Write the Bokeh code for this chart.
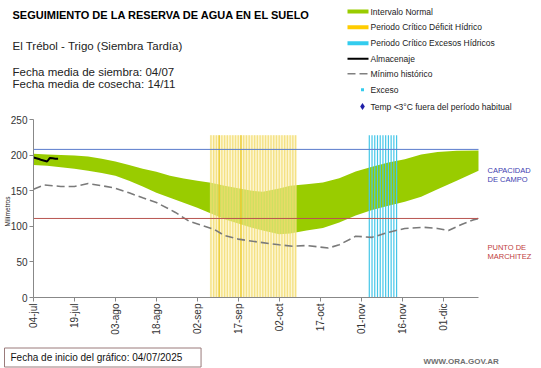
import math
from bokeh.plotting import figure
from bokeh.models import Range1d, Label, FixedTicker, LinearAxis
from bokeh.embed import file_html
from bokeh.resources import INLINE

# ---------------- data ----------------
tick_days = [0, 15, 30, 45, 60, 75, 90, 105, 120, 135, 150]
tick_labels = ["04-jul", "19-jul", "03-ago", "18-ago", "02-sep", "17-sep",
               "02-oct", "17-oct", "01-nov", "16-nov", "01-dic"]
y_ticks = [0, 50, 100, 150, 200, 250]
x_end = 163     # last day shown (14-dic)
y_end = 250

band_days = [0, 5, 10, 15, 20, 25, 30, 35, 40, 45, 50, 55, 60, 65, 70, 75, 80, 84,
             90, 94, 100, 106, 112, 118, 124, 130, 136, 142, 148, 155, 163]
band_upper = [202, 201, 200, 199.5, 198, 195, 191, 186, 181, 176.5, 171, 167, 164,
              161, 157, 153.5, 150, 148.5, 153, 157, 159, 161.5, 167.5, 177, 183.5,
              189.5, 194, 201, 204.5, 206, 206.5]
band_lower = [186, 185, 183, 181, 178, 175, 171, 164, 156, 147, 140, 133, 126, 118,
              110, 104, 98, 94, 89, 90, 94, 97.5, 105.5, 115, 123, 129, 134.5, 141.5,
              152, 164, 178]

min_days = [0, 4, 10, 15, 20, 25, 30, 35, 40, 45, 52, 57, 62, 66, 70, 75, 83, 90, 95,
            100, 108, 112, 118, 124, 130, 136, 143, 148, 152, 157, 161, 163]
min_values = [152, 158, 156, 156, 160, 157, 153.5, 147, 140, 133.5, 119.5, 107, 101,
              96, 87, 82, 77.5, 74, 72, 73, 69.5, 74, 86, 84.5, 91.5, 97, 98.5, 97, 94,
              103, 109, 111]

alm_days = [0, 1, 2, 3, 4, 5, 6, 7, 8, 9]
alm_values = [196.5, 195.5, 194.5, 193, 192, 191, 196, 195.5, 195, 195]

deficit_days = [65, 66, 67, 68, 69, 70, 71, 72, 73, 74, 75, 76, 77, 78, 79, 80, 81,
                82, 83, 84, 85, 86, 87, 88, 89, 90, 91, 92, 93, 94, 95, 96]
deficit_dark_days = [68, 76]
exceso_days = [123, 124, 125, 126, 127, 128, 129, 130, 131, 132, 133]
period_top = 228

capacidad_campo = 208
punto_marchitez = 111

FONT = "Liberation Sans"
W, H = 541, 368
FL, FR = 33, 478          # plot area left/right (page px)
FT, FB = 119, 297         # plot area top/bottom (page px)


def px(page_x):
    return (page_x - FL) * x_end / (FR - FL)


def vy(page_y):
    return (FB - page_y) * y_end / (FB - FT)


p = figure(width=W, height=H, x_range=Range1d(px(0), px(W)),
           y_range=Range1d(vy(H), vy(0)), output_backend="svg",
           toolbar_location=None, min_border=0,
           x_axis_type=None, y_axis_type=None)
p.outline_line_color = None
p.grid.visible = False

# ---------------- marks ----------------
p.varea(x=band_days, y1=band_lower, y2=band_upper, fill_color="#99cc00")

p.quad(left=[min(deficit_days) - 0.4], right=[max(deficit_days) + 0.4],
       bottom=[0], top=[period_top], fill_color="#fbf0b0", fill_alpha=0.55,
       line_color=None)
p.vbar(x=deficit_days, width=0.5, bottom=0, top=period_top,
       fill_color="#f2d96a", fill_alpha=0.75, line_color=None)
p.vbar(x=deficit_dark_days, width=0.35, bottom=0, top=period_top,
       fill_color="#e6c000", fill_alpha=0.9, line_color=None)

p.segment(x0=exceso_days, y0=0, x1=exceso_days, y1=period_top,
          line_color="#45c6e8", line_width=1.2)

p.line(min_days, min_values, line_color="#7a7a7a", line_dash="8 4", line_width=1.6)

p.segment(x0=[0], y0=[capacidad_campo], x1=[x_end], y1=[capacidad_campo],
          line_color="#5a7ccc", line_width=1)
p.segment(x0=[0], y0=[punto_marchitez], x1=[x_end], y1=[punto_marchitez],
          line_color="#b85450", line_width=1)

p.line(alm_days, alm_values, line_color="black", line_width=2)

# ---------------- axes ----------------
xaxis = LinearAxis(fixed_location=0, bounds=(0, x_end),
                   ticker=FixedTicker(ticks=tick_days),
                   major_label_overrides={d: l for d, l in zip(tick_days, tick_labels)},
                   major_label_orientation=math.pi / 2)
yaxis = LinearAxis(fixed_location=0, bounds=(0, y_end),
                   ticker=FixedTicker(ticks=y_ticks))
for ax in (xaxis, yaxis):
    ax.axis_line_color = "#888888"
    ax.major_tick_line_color = "#888888"
    ax.major_tick_out = 4
    ax.major_tick_in = 0
    ax.minor_tick_line_color = None
    ax.major_label_text_font = FONT
    ax.major_label_text_font_size = "10px"
    ax.major_label_text_color = "#333333"
    ax.major_label_standoff = 2
p.add_layout(xaxis, "below")
p.add_layout(yaxis, "left")


# ---------------- texts ----------------
def lab(x, y, text, size, color="#222222", style="normal", **kw):
    p.add_layout(Label(x=px(x), y=vy(y), text=text, text_font=FONT,
                       text_font_size=size, text_color=color,
                       text_font_style=style, text_baseline="middle", **kw))


lab(6.5, 211, "Milímetros", "6.5px", angle=math.pi / 2, text_align="center")
lab(487, 169.5, "CAPACIDAD", "7.5px", color="#4040b0")
lab(487, 178.5, "DE  CAMPO", "7.5px", color="#4040b0")
lab(487, 246.5, "PUNTO  DE", "7.5px", color="#c04040")
lab(487, 255.5, "MARCHITEZ", "7.5px", color="#c04040")

p.add_layout(Label(x=px(4), y=vy(357), text="Fecha de inicio del gráfico:  04/07/2025",
                   text_font=FONT, text_font_size="10px", text_color="#111111",
                   text_baseline="middle", border_line_color="#9a7b7b",
                   border_line_width=1, background_fill_color="white",
                   padding=dict(left=6, right=16, top=4, bottom=4)))
lab(423, 361, "WWW.ORA.GOV.AR", "8px", color="#707070", style="bold")

lab(12, 14, "SEGUIMIENTO DE LA RESERVA DE AGUA  EN EL SUELO", "11px",
    color="black", style="bold")
lab(12, 45, "El Trébol - Trigo (Siembra Tardía)", "11.5px")
lab(12, 71, "Fecha media de siembra: 04/07", "11.5px")
lab(12, 83, "Fecha media de cosecha: 14/11", "11.5px")

# ---------------- legend ----------------
legend_rows = [11, 26.7, 42.7, 58.3, 73.3, 89.3, 106]
legend_texts = ["Intervalo Normal", "Periodo Crítico Déficit Hídrico",
                "Periodo Crítico Excesos Hídricos", "Almacenaje", "Mínimo histórico",
                "Exceso", "Temp <3°C fuera del período habitual"]
swatch_colors = ["#99cc00", "#ffcc00", "#33ccee"]
for yy, c in zip(legend_rows[:3], swatch_colors):
    p.quad(left=[px(347)], right=[px(368)], top=[vy(yy - 2)], bottom=[vy(yy + 2)],
           fill_color=c, line_color=None)
p.segment(x0=[px(347)], y0=[vy(legend_rows[3])], x1=[px(368)],
          y1=[vy(legend_rows[3])], line_color="black", line_width=2)
p.segment(x0=[px(347), px(359)], y0=[vy(legend_rows[4])] * 2,
          x1=[px(355), px(367)], y1=[vy(legend_rows[4])] * 2,
          line_color="#808080", line_width=1.5)
p.scatter(x=[px(362)], y=[vy(legend_rows[5])], marker="square", size=3,
          fill_color="#33ccee", line_color=None)
p.scatter(x=[px(362)], y=[vy(legend_rows[6])], marker="diamond", size=7,
          fill_color="#1f1fa8", line_color=None)
for yy, t in zip(legend_rows, legend_texts):
    lab(370, yy, t, "8.5px")

open("out.html", "w").write(file_html(p, INLINE))
